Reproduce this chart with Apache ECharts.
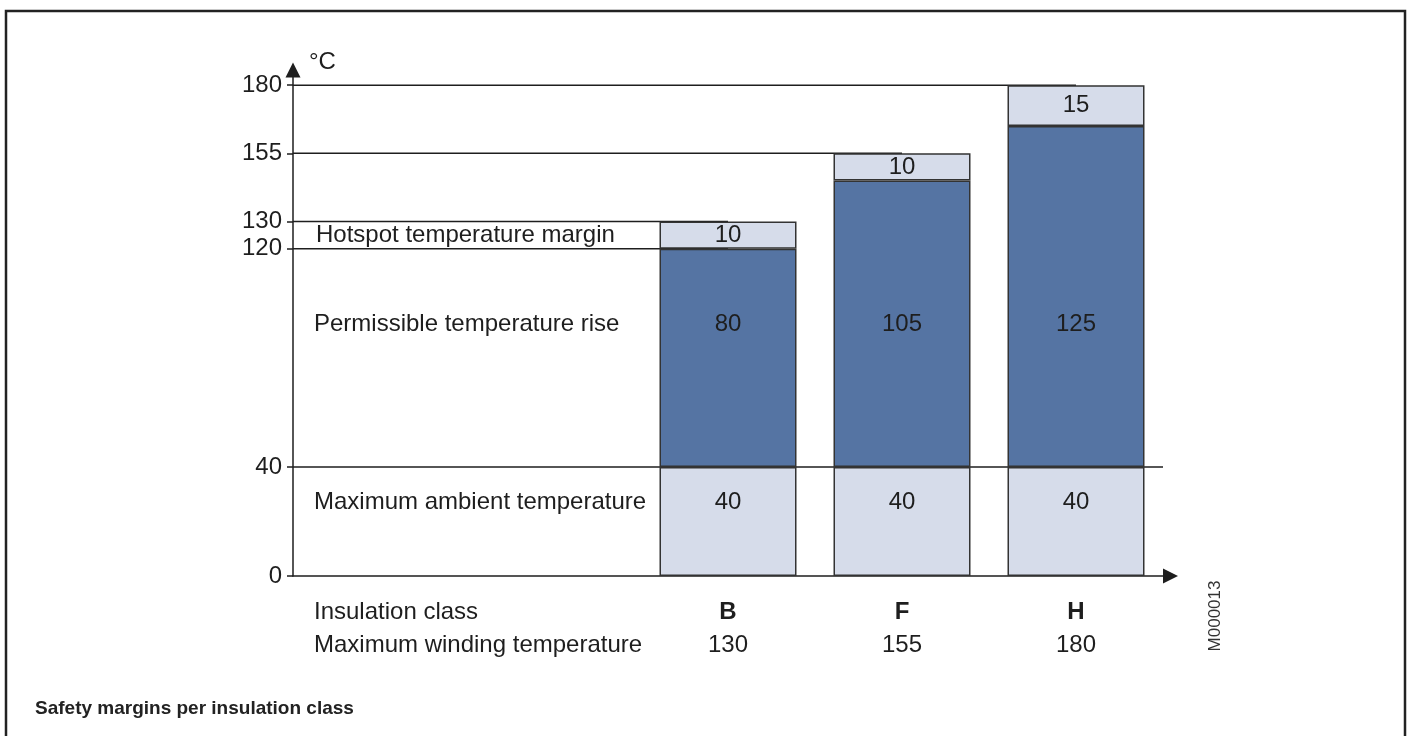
<!DOCTYPE html>
<html><head><meta charset="utf-8">
<style>html,body{margin:0;padding:0;background:#fff}#main{width:1414px;height:736px}</style>
<script src="https://cdn.jsdelivr.net/npm/echarts@6/dist/echarts.min.js"></script>
</head><body><div id="main"></div>
<script>
// ---- data ----
const insulationClasses = ['B', 'F', 'H'];
const ambientTemp = [40, 40, 40];
const permissibleRise = [80, 105, 125];
const hotspotMargin = [10, 10, 15];
const yTickValues = [0, 40, 120, 130, 155, 180];
const rowLabels = ['Maximum ambient temperature', 'Permissible temperature rise', 'Hotspot temperature margin'];
const axisRowLabels = ['Insulation class', 'Maximum winding temperature'];
const yUnit = '°C';
const figureCode = 'M000013';
const caption = 'Safety margins per insulation class';

// ---- layout / style ----
const FONT = '"Liberation Sans", Arial, Helvetica, sans-serif';
const INK = '#1e1e1e';
const LIGHT = '#D6DCEA';
const DARK = '#5574A3';
const GRID_LEFT = 293, GRID_RIGHT = 251, GRID_TOP = 77, GRID_BOTTOM = 160;
const LIFT_AMBIENT = 74, LIFT_RISE = 143;
const LEAD = 2; // empty category slots that hold the row captions

const categories = Array(LEAD).fill('').concat(insulationClasses);
const pad = arr => Array(LEAD).fill('-').concat(arr);
const maxWinding = insulationClasses.map((c, i) => ambientTemp[i] + permissibleRise[i] + hotspotMargin[i]);

// reference lines: [level, x end (category centre or axis end)]
const refLines = [[ambientTemp[0], categories.length], [ambientTemp[0] + permissibleRise[0], LEAD + 0.5]]
  .concat(maxWinding.map((t, i) => [t, LEAD + i + 0.5]));

const chart = echarts.init(document.getElementById('main'), null, {renderer: 'canvas'});

const barBase = {
  type: 'bar', stack: 'total', barWidth: 137, z: 3,
  itemStyle: {borderColor: '#333', borderWidth: 1.5},
};
const labelBase = {show: true, fontSize: 24, color: INK, fontFamily: FONT};

chart.setOption({
  animation: false,
  backgroundColor: '#fff',
  textStyle: {fontFamily: FONT},
  grid: {left: GRID_LEFT, right: GRID_RIGHT, top: GRID_TOP, bottom: GRID_BOTTOM},
  xAxis: [{
    type: 'category', data: categories,
    axisLine: {symbol: ['none', 'triangle'], symbolSize: [15, 15], symbolOffset: [0, 7.5], lineStyle: {color: INK, width: 1.5}},
    axisTick: {show: false},
    axisLabel: {
      interval: 0, margin: 20,
      formatter: (v, i) => v ? `{cls|${v}}\n{num|${maxWinding[i - LEAD]}}` : '',
      rich: {
        cls: {fontSize: 24, fontWeight: 'bold', lineHeight: 33, color: INK, fontFamily: FONT},
        num: {fontSize: 24, lineHeight: 33, color: INK, fontFamily: FONT}
      }
    }
  }, {
    type: 'value', min: 0, max: categories.length, show: false
  }],
  yAxis: {
    type: 'value', min: 0, max: 183,
    splitLine: {show: false},
    axisLine: {show: true, symbol: ['none', 'triangle'], symbolSize: [15, 15], symbolOffset: [0, 7], lineStyle: {color: INK, width: 1.5}},
    axisTick: {show: true, length: 6, customValues: yTickValues, lineStyle: {color: INK, width: 1.5}},
    axisLabel: {customValues: yTickValues, fontSize: 24, color: INK, margin: 11, fontFamily: FONT},
    name: yUnit, nameLocation: 'end', nameGap: 15,
    nameTextStyle: {fontSize: 24, color: INK, align: 'left', verticalAlign: 'middle', padding: [0, 0, 0, 16], fontFamily: FONT}
  },
  series: [
    Object.assign({}, barBase, {
      name: rowLabels[0], data: pad(ambientTemp),
      itemStyle: Object.assign({}, barBase.itemStyle, {color: LIGHT}),
      label: Object.assign({}, labelBase, {position: 'insideBottom', verticalAlign: 'middle', distance: LIFT_AMBIENT})
    }),
    Object.assign({}, barBase, {
      name: rowLabels[1], data: pad(permissibleRise),
      itemStyle: Object.assign({}, barBase.itemStyle, {color: DARK}),
      label: Object.assign({}, labelBase, {position: 'insideBottom', verticalAlign: 'middle', distance: LIFT_RISE})
    }),
    Object.assign({}, barBase, {
      name: rowLabels[2], data: pad(hotspotMargin),
      itemStyle: Object.assign({}, barBase.itemStyle, {color: LIGHT}),
      label: Object.assign({}, labelBase, {position: 'inside'})
    })
  ].concat(refLines.map(([lvl, xEnd]) => ({
    type: 'line', xAxisIndex: 1, yAxisIndex: 0, z: 1, silent: true,
    symbol: 'none', lineStyle: {color: INK, width: 1.5},
    data: [[0, lvl], [xEnd, lvl]]
  })))
});

// ---- annotations positioned through the axis scale ----
const yPix = v => chart.convertToPixel({yAxisIndex: 0}, v);
const textX = GRID_LEFT + 21;
const rowY = [
  yPix(0) - LIFT_AMBIENT,
  yPix(ambientTemp[0]) - LIFT_RISE,
  (yPix(ambientTemp[0] + permissibleRise[0]) + yPix(maxWinding[0])) / 2
];
const txt = (text, x, y, extra) => ({
  type: 'text', x, y, silent: true,
  style: Object.assign({text, fontSize: 24, fontFamily: FONT, fill: INK, align: 'left', verticalAlign: 'middle'}, extra || {})
});
chart.setOption({
  graphic: [
    {type: 'rect', silent: true, shape: {x: 6, y: 11, width: 1399, height: 780},
     style: {fill: 'none', stroke: '#222', lineWidth: 2.5}},
    txt(rowLabels[0], textX, rowY[0]),
    txt(rowLabels[1], textX, rowY[1]),
    txt(rowLabels[2], textX + 2, rowY[2]),
    txt(axisRowLabels.join('\n'), textX, yPix(0) + 20, {verticalAlign: 'top', lineHeight: 33}),
    Object.assign(txt(figureCode, 1215, 616, {fontSize: 17, fill: '#333', align: 'center'}), {rotation: Math.PI / 2}),
    txt(caption, 35, 709, {fontSize: 19, fontWeight: 'bold', fill: '#222'})
  ]
});
</script></body></html>
